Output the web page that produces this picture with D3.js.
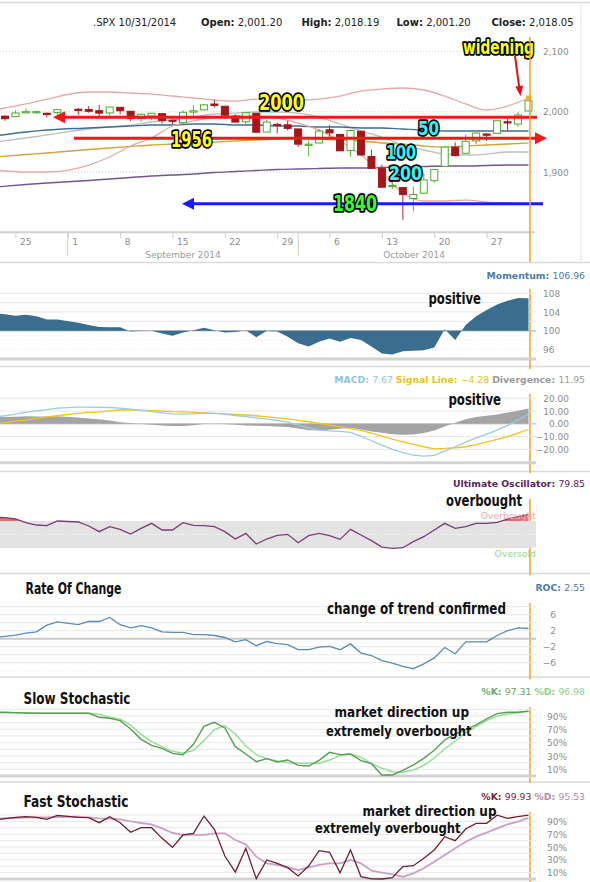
<!DOCTYPE html>
<html>
<head>
<meta charset="utf-8">
<script src="https://cdn.jsdelivr.net/npm/d3@7/dist/d3.min.js"></script>
<style>
html,body{margin:0;padding:0;background:#fff;}
svg{display:block;}
</style>
</head>
<body>
<svg id="chart" width="590" height="882"></svg>
<script>
// ================= DATA =================
const symbol = ".SPX";
const dates = ["2014-08-21","2014-08-22","2014-08-25","2014-08-26","2014-08-27","2014-08-28","2014-08-29",
"2014-09-02","2014-09-03","2014-09-04","2014-09-05","2014-09-08","2014-09-09","2014-09-10","2014-09-11","2014-09-12",
"2014-09-15","2014-09-16","2014-09-17","2014-09-18","2014-09-19",
"2014-09-22","2014-09-23","2014-09-24","2014-09-25","2014-09-26",
"2014-09-29","2014-09-30",
"2014-10-01","2014-10-02","2014-10-03",
"2014-10-06","2014-10-07","2014-10-08","2014-10-09","2014-10-10",
"2014-10-13","2014-10-14","2014-10-15","2014-10-16","2014-10-17",
"2014-10-20","2014-10-21","2014-10-22","2014-10-23","2014-10-24",
"2014-10-27","2014-10-28","2014-10-29","2014-10-30","2014-10-31"];

const open = [1986.82,1992.60,1991.74,1998.59,1999.90,1997.42,1998.45,
2004.07,2003.57,2001.67,1998.00,2007.17,2000.73,1988.41,1992.85,1996.74,
1986.04,1981.93,1999.30,2003.07,2012.74,
2009.08,1992.78,1983.34,1997.32,1966.22,
1978.96,1978.21,
1971.44,1945.83,1948.12,
1970.01,1962.36,1935.55,1967.68,1925.63,
1905.65,1877.11,1874.18,1855.95,1864.91,
1885.62,1909.38,1941.29,1931.02,1951.59,
1962.97,1964.14,1983.29,1979.49,2001.20];
const high = [1994.76,1993.54,2001.95,2005.04,2002.14,1998.55,2003.38,
2006.12,2009.28,2011.17,2007.71,2007.17,2001.01,1996.66,1997.65,1996.74,
1987.18,2002.28,2010.74,2012.34,2019.26,
2009.08,1995.41,1999.79,1997.32,1986.37,
1981.28,1985.17,
1971.44,1952.32,1971.19,
1977.84,1962.36,1970.36,1967.68,1936.98,
1912.09,1898.71,1874.18,1876.01,1898.16,
1905.03,1942.45,1949.31,1961.95,1965.27,
1964.64,1985.05,1991.40,1999.40,2018.19];
const low = [1986.82,1984.76,1991.74,1998.59,1996.20,1990.52,1994.65,
1994.85,1998.14,1992.44,1990.10,1995.60,1984.61,1982.99,1985.93,1980.26,
1978.48,1979.06,1993.29,2003.07,2006.59,
1991.01,1982.77,1978.63,1965.99,1966.22,
1964.04,1968.96,
1941.72,1926.03,1948.12,
1958.43,1935.10,1925.25,1927.56,1906.05,
1874.14,1871.79,1820.66,1835.02,1864.91,
1882.30,1909.38,1927.11,1931.02,1946.27,
1951.37,1964.14,1969.04,1974.75,2001.20];
const close = [1992.37,1988.40,1997.92,2000.02,2000.12,1996.74,2003.37,
2002.28,2000.72,1997.65,2007.71,2001.54,1988.44,1995.69,1997.45,1985.54,
1984.13,1998.98,2001.57,2011.36,2010.40,
1994.29,1982.77,1998.30,1965.99,1982.85,
1977.80,1972.29,
1946.16,1946.17,1967.90,
1964.82,1935.10,1968.89,1928.21,1906.13,
1874.74,1877.70,1862.49,1862.76,1886.76,
1904.01,1941.28,1927.11,1950.82,1964.58,
1961.63,1985.05,1982.30,1994.65,2018.05];

// moving averages / bands, sampled on these dates
const maDates = ["2014-08-21","2014-08-26","2014-08-28","2014-09-03","2014-09-05","2014-09-09","2014-09-11",
"2014-09-15","2014-09-17","2014-09-19","2014-09-23","2014-09-25","2014-09-29","2014-10-01","2014-10-03",
"2014-10-07","2014-10-09","2014-10-13","2014-10-15","2014-10-17","2014-10-21","2014-10-23","2014-10-27",
"2014-10-29","2014-10-31"];
const bbUpper = [2002.8,2012.8,2021.0,2032.7,2032.7,2031.0,2029.3,2026.0,2022.7,2019.4,2017.7,2021.0,2021.0,
2019.4,2021.0,2026.0,2034.3,2037.6,2039.3,2036.0,2026.0,2012.8,2002.8,2009.4,2022.7];
const bbLower = [1903.3,1900.0,1900.0,1911.6,1924.9,1943.1,1956.4,1976.3,1984.6,1991.2,1992.9,1992.9,1989.5,
1981.2,1969.6,1951.4,1928.2,1898.3,1865.1,1851.9,1851.9,1853.5,1850.2,1848.6,1846.9];
const bbMid = [1949.7,1956.4,1961.4,1971.3,1974.6,1977.9,1982.9,1986.2,1991.2,1996.2,1997.8,1999.5,1999.5,
1997.8,1991.2,1979.6,1968.0,1958.0,1944.8,1936.5,1929.8,1928.2,1929.8,1933.2,1933.2];
const ma50 = [1959.7,1966.3,1969.6,1973.0,1974.6,1976.3,1977.9,1977.9,1979.6,1979.6,1977.9,1977.9,1976.3,
1976.3,1974.6,1974.6,1973.0,1973.0,1971.3,1969.6,1968.0,1968.0,1968.0,1968.0,1968.0];
const ma100 = [1924.9,1929.0,1931.5,1937.3,1939.8,1942.3,1944.8,1946.4,1948.1,1949.7,1951.4,1953.1,1954.7,
1956.4,1954.7,1953.1,1951.4,1948.1,1946.4,1943.1,1941.4,1943.1,1944.8,1946.4,1948.1];
const ma200 = [1875.0,1879.2,1881.7,1885.9,1888.4,1890.9,1893.3,1895.0,1896.6,1899.2,1900.8,1902.5,1904.2,
1905.0,1905.8,1906.6,1906.6,1907.5,1908.3,1909.1,1910.0,1910.0,1910.8,1911.6,1911.6];

// indicators (one value per trading day)
const momentum = [103.7,103.5,103.2,103.4,103.1,102.4,102.4,101.7,101.2,100.8,100.7,100.7,99.8,99.9,100.0,99.4,
98.9,99.6,100.1,100.6,100.1,99.6,99.7,100.1,98.6,99.9,99.8,98.7,97.3,96.6,97.6,98.3,97.6,98.4,98.0,96.6,
95.1,94.9,95.6,95.7,95.8,96.4,100.3,98.0,101.2,103.1,104.4,105.6,106.4,107.0,106.96];
const macd = [5.2,6.3,7.6,8.9,10.1,11.2,12.3,13.1,13.1,12.9,12.8,12.3,11.5,10.6,9.7,8.6,7.8,7.6,7.8,8.4,8.1,
7.6,6.5,5.6,4.7,3.7,2.6,1.3,-1.0,-3.4,-5.0,-5.6,-6.0,-6.8,-9.7,-13.3,-16.7,-20.1,-22.7,-24.5,-25.3,-24.8,
-21.4,-18.0,-14.4,-11.0,-8.1,-5.0,-1.3,2.9,7.67];
const signal = [-0.3,1.0,2.1,2.9,4.3,5.4,6.3,8.1,8.9,9.4,10.2,11.0,10.8,10.7,10.4,9.9,9.5,9.3,8.9,8.5,8.1,
7.8,7.3,6.9,6.3,5.5,4.7,3.9,2.7,1.6,0.3,-1.0,-2.2,-3.7,-5.2,-7.3,-9.7,-12.0,-14.1,-16.2,-18.0,-19.6,
-19.3,-18.8,-18.0,-16.4,-14.4,-12.3,-10.1,-7.3,-4.28];
const ultimate = [75.5,75,73,67.5,64,63,70,68.5,62.5,54,61.5,57.5,50.5,59,66.5,56.5,56.5,67.5,63.5,63,61.5,
54,43,51.5,35.5,43,48.5,50,37.5,48,51.5,48,42.5,57.5,49,40.5,31,29,30,39,46.5,56.5,66.5,59,61.5,66.5,
66.5,68,73,76.5,79.85];
const roc = [0.33,0.6,0.9,1.4,1.7,3.4,4.2,3.5,4.3,4.3,5.3,3.5,2.7,3.25,2.7,1.7,1.6,1.6,1.0,1.0,0.8,0.3,-0.8,
-0.25,-1.75,-0.7,-1.25,-1.5,-2.75,-2.75,-2.1,-1.9,-2.75,-1.3,-3.6,-4.2,-5.5,-6.1,-6.9,-7.5,-6.3,-4.8,-2.2,
-3.75,-0.8,-0.8,-0.8,0.8,2.0,2.7,2.55];
const slowK = [95.5,95.5,95,94.5,94,94,94,94,94,88,86.5,83,70.5,55,46,41.5,34,32,47.5,74.5,80.5,72,44,33,
21.5,26,21,24,16,15,23.5,35.5,32,33,23,18.5,1.5,1.5,8.5,16.5,26.5,38.5,54,63,69.5,76.5,85.5,93.5,95.5,
95.5,97.31];
const slowD = [95,95,94.5,94.3,94,94,94,94,94,92.5,88,85.5,76,62.5,51.5,44,37,34.5,38,53,69.5,75.5,63,45,32,
26,22.5,20,19,19,19,24,30.5,33,28,19,11.5,6.5,5.5,9,16,27,40.5,52.5,65,74,83,89.5,93,95,96.98];
const fastK = [92.2,94.3,96.4,97.4,96.4,93.2,99.5,96.4,95.8,88,97.4,88,72.9,80.2,80.2,63.5,49.5,68.8,71.4,
98.4,77.6,35.9,10.9,47.9,0.5,29.7,24.5,17.7,4.7,20.3,44.3,41.7,9.9,45.3,3.6,0.2,0,2.1,19.3,20.8,32.3,45.3,
66.1,59.9,78.1,87,87,99.8,94.8,97.4,99.93];
const fastD = [94.3,94.8,95.3,95.8,96.4,96.4,96.9,97.4,96.4,94.8,94.3,93.2,90.1,87.5,85.4,79.2,71.9,68.8,
68.8,68.8,71.4,71.4,60.9,54.2,34.9,24.5,21.9,18.2,14.1,18.2,21.9,24.5,24.5,29.7,24.5,13,9.9,7.3,3.6,8.9,
16.7,27.1,37.5,47.9,58.3,66.1,72.4,79.2,85.4,89.6,95.53];

// price levels marked on the chart
const levelResist = 1990.7, levelSupport = 1955.9, levelLow = 1847.4;
const priceTicks = [1900, 2000, 2100];

// ================= HELPERS =================
const svg = d3.select("#chart");
const SANS = "'DejaVu Sans', Verdana, sans-serif";
const NARROW = "'Liberation Sans Narrow','DejaVu Sans Condensed','Roboto Condensed','DejaVu Sans',sans-serif";
const TICK = "#8c8c8c";
const parse = d3.timeParse("%Y-%m-%d");
const base = parse("2014-08-22");
const isWk = d => d.getDay() !== 0 && d.getDay() !== 6;
function wd(d) {
  if (d >= base) return d3.timeDay.range(base, d).filter(isWk).length;
  return -d3.timeDay.range(d, base).filter(isWk).length;
}
const tDates = dates.map(parse);
const tIdx = tDates.map(wd);
const maIdx = maDates.map(parse).map(wd);
const x = d3.scaleLinear().domain([0, 50]).range([5, 528.5]);
const X = i => x(tIdx[i]);
const last = dates.length - 1;

const defs = svg.append("defs");
defs.append("clipPath").attr("id", "cm").append("rect").attr("x", 0).attr("y", 28).attr("width", 536).attr("height", 204);
defs.append("clipPath").attr("id", "ci").append("rect").attr("x", 0).attr("y", 0).attr("width", 530.5).attr("height", 882);

function hline(g, y, x1, x2, col, w, dash) {
  const l = g.append("line").attr("x1", x1).attr("x2", x2).attr("y1", y).attr("y2", y)
    .attr("stroke", col).attr("stroke-width", w);
  if (dash) l.attr("stroke-dasharray", dash);
  return l;
}
function bigLabel(str, x0, yb, len, fill, size) {
  svg.append("text").attr("x", x0).attr("y", yb)
    .attr("textLength", len).attr("lengthAdjust", "spacingAndGlyphs")
    .style("font-family", NARROW).style("font-weight", "bold").style("font-size", size + "px")
    .attr("fill", fill).attr("stroke", "#000").attr("stroke-width", 3.6)
    .attr("stroke-linejoin", "round").attr("paint-order", "stroke").text(str);
}
function note(str, x0, yb, len, size) {
  svg.append("text").attr("x", x0).attr("y", yb)
    .attr("textLength", len).attr("lengthAdjust", "spacingAndGlyphs")
    .style("font-family", NARROW).style("font-weight", "bold").style("font-size", (size || 15) + "px")
    .attr("fill", "#111").text(str);
}
function label(y, parts) {
  const t = svg.append("text").attr("x", 585).attr("y", y).attr("text-anchor", "end")
    .style("font-family", SANS).style("font-size", "9.3px");
  parts.forEach(p => t.append("tspan").attr("fill", p[1]).style("font-weight", p[2] ? "bold" : "normal").text(p[0]));
}
function rightAxis(y, vals, fmt, xpos, anchor) {
  const g = svg.append("g").attr("transform", `translate(${xpos},0)`)
    .call(d3.axisRight(y).tickValues(vals).tickSize(0).tickPadding(0).tickFormat(fmt));
  g.select(".domain").remove();
  g.selectAll("text").attr("fill", TICK).style("font-family", SANS).style("font-size", "9px")
    .attr("text-anchor", anchor || "start");
  return g;
}

// ================= FRAME =================
[2.5, 262.5, 366.5, 471.5, 573.5, 677, 782].forEach(yy => hline(svg, yy, 0, 590, "#d9d9d9", 1.5));
svg.append("line").attr("x1", 581).attr("x2", 581).attr("y1", 2.5).attr("y2", 262.5).attr("stroke", "#e2e2e2");

// header
const f2 = d3.format(",.2f");
const hdr = [
  [symbol + " " + d3.timeFormat("%m/%d/%Y")(tDates[last]), "", 93],
  ["Open:", f2(open[last]), 201],
  ["High:", f2(high[last]), 301.5],
  ["Low:", f2(low[last]), 396.5],
  ["Close:", f2(close[last]), 491.5]
];
hdr.forEach(h => {
  const t = svg.append("text").attr("x", h[2]).attr("y", 25.5).attr("fill", "#222")
    .style("font-family", SANS).style("font-size", "10px");
  if (h[1]) {
    t.append("tspan").style("font-weight", "bold").text(h[0]);
    t.append("tspan").text(" " + h[1]);
  } else t.text(h[0]);
});

// ================= MAIN PRICE PANEL =================
const yP = d3.scaleLinear().domain([1800, 2100]).range([232.3, 51.4]);
priceTicks.forEach(v => hline(svg, yP(v), 0, 540, "#d3d3d3", 1, "1,2"));
rightAxis(yP, priceTicks, d3.format(","), 543).selectAll("text").attr("dy", "0.35em");

// x axis
hline(svg, 232.3, 0, 535, "#d0d0d0", 2);
const mondays = d3.timeMonday.range(parse("2014-08-25"), parse("2014-10-28"));
const xa = svg.append("g").attr("transform", "translate(0,232.3)")
  .call(d3.axisBottom(x).tickValues(mondays.map(wd)).tickSize(6).tickPadding(0)
    .tickFormat((d, i) => d3.timeFormat("%-d")(mondays[i])));
xa.select(".domain").remove();
xa.selectAll("line").attr("stroke", "#cfcfcf");
xa.selectAll("text").attr("fill", TICK).attr("text-anchor", "start").attr("x", 4)
  .style("font-family", SANS).style("font-size", "9px");
const months = d3.timeMonth.range(parse("2014-09-01"), parse("2014-11-01"));
const monthStart = months.map(m => { let d = m; while (!isWk(d)) d = d3.timeDay.offset(d, 1); return x(wd(d)); });
months.forEach((m, i) => {
  const x0 = monthStart[i], x1 = i + 1 < months.length ? monthStart[i + 1] : 530;
  svg.append("line").attr("x1", x0).attr("x2", x0).attr("y1", 232.3).attr("y2", 256).attr("stroke", "#cfcfcf");
  svg.append("text").attr("x", (x0 + x1) / 2).attr("y", 257.5).attr("text-anchor", "middle")
    .attr("fill", "#9a9a9a").style("font-family", SANS).style("font-size", "9px")
    .text(d3.timeFormat("%B %Y")(m));
});

// moving averages and bands
const mg = svg.append("g").attr("clip-path", "url(#cm)");
const maLine = d3.line().x((d, i) => x(maIdx[i])).y(d => yP(d)).curve(d3.curveMonotoneX);
[[ma200, "#735497", 1.4], [ma100, "#d3a33a", 1.3], [bbMid, "#bdbdbd", 1.3], [ma50, "#3c6f99", 1.4],
 [bbUpper, "#e2aaa4", 1.3], [bbLower, "#e2aaa4", 1.3]].forEach(s =>
  mg.append("path").attr("d", maLine(s[0])).attr("fill", "none").attr("stroke", s[1]).attr("stroke-width", s[2]));

// candles
const cg = svg.append("g").attr("clip-path", "url(#cm)");
dates.forEach((d, i) => {
  const up = close[i] >= open[i];
  const col = up ? "#4fa82f" : "#a5161a";
  const cx = X(i);
  cg.append("line").attr("x1", cx).attr("x2", cx).attr("y1", yP(high[i])).attr("y2", yP(low[i]))
    .attr("stroke", up ? "#5cb33a" : "#b32b2b").attr("stroke-width", 1);
  const yt = yP(Math.max(open[i], close[i])), yb = yP(Math.min(open[i], close[i]));
  cg.append("rect").attr("x", cx - 3.5).attr("y", yt).attr("width", 7).attr("height", Math.max(1.2, yb - yt))
    .attr("fill", up ? "#fff" : "#a5161a").attr("stroke", col).attr("stroke-width", 1);
});
// last-value marker
svg.append("rect").attr("x", X(last) - 2.5).attr("y", yP(bbUpper[bbUpper.length - 1]) - 2.5)
  .attr("width", 5).attr("height", 5).attr("fill", "#f5a623").attr("opacity", 0.9);

// level lines with arrows
function levelLine(price, x1, x2, col, arrowLeft) {
  const yy = yP(price);
  hline(svg, yy, arrowLeft ? x1 + 8 : x1, arrowLeft ? x2 : x2 - 8, col, 3);
  const tip = arrowLeft ? x1 : x2, back = arrowLeft ? x1 + 12 : x2 - 12;
  svg.append("path").attr("d", `M${tip},${yy}L${back},${yy - 6}L${back},${yy + 6}Z`).attr("fill", col);
}
levelLine(levelResist, 53, 537, "#f01818", true);
levelLine(levelSupport, 74, 547, "#f01818", false);
levelLine(levelLow, 182, 543, "#1a1aff", true);

// widening arrow
svg.append("line").attr("x1", 515).attr("y1", 56).attr("x2", 519.3).attr("y2", 88).attr("stroke", "#e81010").attr("stroke-width", 2);
svg.append("path").attr("d", "M520.5,96L515.3,86.6L523.2,85.6Z").attr("fill", "#e81010");

bigLabel("widening", 463, 53.5, 71, "#ffff22", 19);
bigLabel("2000", 259, 110, 45, "#ffff22", 21);
bigLabel("1956", 171, 147, 41, "#ffff22", 21);
bigLabel("50", 418, 134.5, 21, "#33f4ff", 20);
bigLabel("100", 386, 158.5, 30, "#33f4ff", 19);
bigLabel("200", 389, 179.5, 33, "#33f4ff", 19);
bigLabel("1840", 333, 210.5, 44, "#33ff33", 21);

// orange "current" line segments
[[37, 262], [289, 369], [394, 473], [499, 575], [603, 679], [707, 783], [812, 882]].forEach(s =>
  svg.append("line").attr("x1", 530).attr("x2", 530).attr("y1", s[0]).attr("y2", s[1])
    .attr("stroke", "#f5a020").attr("stroke-width", 1.5));

const fmt2 = d3.format(".2f");

// ================= MOMENTUM =================
const yM = d3.scaleLinear().domain([96, 108]).range([349.3, 293.3]);
d3.range(96, 109, 2).forEach(v => hline(svg, yM(v), 0, 536, v === 100 ? "#c4c4c4" : "#e8e8e8", v === 100 ? 1.5 : 1, v < 100 ? "1,2" : null));
hline(svg, 359, 0, 536, "#d2d2d2", 3);
svg.append("path").attr("clip-path", "url(#ci)")
  .attr("d", d3.area().x((d, i) => X(i)).y0(yM(100)).y1(d => yM(d))(momentum))
  .attr("fill", "#3b6d8e");
rightAxis(yM, [108, 104, 100, 96], d3.format("d"), 543).selectAll("text").attr("dy", "0.35em");
label(278.5, [["Momentum: ", "#4a7ca6", true], [fmt2(momentum[last]), "#4a7ca6", false]]);
note("positive", 428.5, 303.5, 52.5, 15);

// ================= MACD =================
const yD = d3.scaleLinear().domain([-20, 20]).range([449.3, 398.3]);
[-20, -10, 0, 10, 20].forEach(v => hline(svg, yD(v), 0, 536, v === 0 ? "#d0d0d0" : "#e6e6e6", v === 0 ? 1.5 : 1));
hline(svg, 462.7, 0, 536, "#d2d2d2", 3);
const divergence = macd.map((m, i) => m - signal[i]);
svg.append("path").attr("clip-path", "url(#ci)")
  .attr("d", d3.area().x((d, i) => X(i)).y0(yD(0)).y1(d => yD(d))(divergence))
  .attr("fill", "#a4a4a4");
svg.append("path").attr("clip-path", "url(#ci)").attr("d", d3.line().x((d, i) => X(i)).y(d => yD(d))(signal))
  .attr("fill", "none").attr("stroke", "#f2c31a").attr("stroke-width", 1.3);
svg.append("path").attr("clip-path", "url(#ci)").attr("d", d3.line().x((d, i) => X(i)).y(d => yD(d))(macd))
  .attr("fill", "none").attr("stroke", "#9ccbe0").attr("stroke-width", 1.3);
rightAxis(yD, [20, 10, 0, -10, -20], fmt2, 569, "end").selectAll("text").attr("dy", "0.35em");
label(382.5, [["MACD: ", "#92c4dc", true], [fmt2(macd[last]) + "  ", "#92c4dc", false],
  ["Signal Line: ", "#e8c21c", true], [fmt2(signal[last]) + "  ", "#e8c21c", false],
  ["Divergence: ", "#9a9a9a", true], [fmt2(divergence[last]), "#9a9a9a", false]]);
note("positive", 448.5, 405, 52.5, 15);

// ================= ULTIMATE OSCILLATOR =================
const yU = d3.scaleLinear().domain([0, 100]).range([567.7, 501]);
svg.append("rect").attr("x", 0).attr("y", yU(70)).attr("width", 536).attr("height", yU(30) - yU(70)).attr("fill", "#e3e3e3");
hline(svg, yU(50), 0, 536, "#ffffff", 1, "1,2");
defs.append("clipPath").attr("id", "uoTop").append("rect").attr("x", 0).attr("y", 0).attr("width", 530.5).attr("height", yU(70));
defs.append("clipPath").attr("id", "uoBot").append("rect").attr("x", 0).attr("y", yU(30)).attr("width", 530.5).attr("height", 100);
svg.append("path").attr("clip-path", "url(#uoTop)")
  .attr("d", d3.area().x((d, i) => X(i)).y0(yU(70)).y1(d => yU(d))(ultimate)).attr("fill", "#dc5a55").attr("opacity", 0.85);
svg.append("path").attr("clip-path", "url(#uoBot)")
  .attr("d", d3.area().x((d, i) => X(i)).y0(yU(30)).y1(d => yU(d))(ultimate)).attr("fill", "#66bb55").attr("opacity", 0.85);
svg.append("path").attr("clip-path", "url(#ci)").attr("d", d3.line().x((d, i) => X(i)).y(d => yU(d))(ultimate))
  .attr("fill", "none").attr("stroke", "#7a3d78").attr("stroke-width", 1.3);
svg.append("text").attr("x", 536).attr("y", 518.5).attr("text-anchor", "end").attr("fill", "#f2a8a8")
  .style("font-family", SANS).style("font-size", "9.3px").text("Overbought");
svg.append("text").attr("x", 536).attr("y", 557).attr("text-anchor", "end").attr("fill", "#98d490")
  .style("font-family", SANS).style("font-size", "9.3px").text("Oversold");
label(487, [["Ultimate Oscillator: ", "#5c2460", true], [fmt2(ultimate[last]), "#5c2460", false]]);
note("overbought", 446, 506, 76, 15);

// ================= RATE OF CHANGE =================
const yR = d3.scaleLinear().domain([-8, 8]).range([670.7, 606.7]);
d3.range(-8, 9, 2).forEach(v => hline(svg, yR(v), 0, 536, v === 0 ? "#c8c8c8" : "#e8e8e8", v === 0 ? 2 : 1, v === -8 ? "1,2" : null));
svg.append("path").attr("clip-path", "url(#ci)").attr("d", d3.line().x((d, i) => X(i)).y(d => yR(d))(roc))
  .attr("fill", "none").attr("stroke", "#5a8cb5").attr("stroke-width", 1.3);
rightAxis(yR, [6, 2, -2, -6], d3.format("d"), 556, "end").selectAll("text").attr("dy", "0.35em");
label(591, [["ROC: ", "#4a7ca6", true], [fmt2(roc[last]), "#4a7ca6", false]]);
note("Rate Of Change", 25.5, 593.5, 96, 15);
note("change of trend confirmed", 327, 613.5, 179, 15);

// ================= SLOW STOCHASTIC =================
const pct = d => d + "%";
const yS = d3.scaleLinear().domain([0, 100]).range([776, 709.3]);
d3.range(10, 101, 10).forEach(v => hline(svg, yS(v), 0, 536, "#e8e8e8", 1));
hline(svg, yS(0), 0, 536, "#d2d2d2", 3);
svg.append("path").attr("clip-path", "url(#ci)").attr("d", d3.line().x((d, i) => X(i)).y(d => yS(d))(slowD))
  .attr("fill", "none").attr("stroke", "#95e095").attr("stroke-width", 1.5);
svg.append("path").attr("clip-path", "url(#ci)").attr("d", d3.line().x((d, i) => X(i)).y(d => yS(d))(slowK))
  .attr("fill", "none").attr("stroke", "#5a9c55").attr("stroke-width", 1.4);
rightAxis(yS, [90, 70, 50, 30, 10], pct, 547).selectAll("text").attr("dy", "0.35em");
label(695, [["%K: ", "#6aaa66", true], [fmt2(slowK[last]) + "  ", "#6aaa66", false],
  ["%D: ", "#8fd08f", true], [fmt2(slowD[last]), "#8fd08f", false]]);
note("Slow Stochastic", 23.5, 704, 107, 15);
note("market direction up", 334.5, 716.5, 134.5, 14.5);
note("extremely overbought", 326, 735.5, 145.5, 14.5);

// ================= FAST STOCHASTIC =================
const yF = d3.scaleLinear().domain([0, 100]).range([879, 815]);
d3.range(10, 101, 10).forEach(v => hline(svg, yF(v), 0, 536, "#e8e8e8", 1));
hline(svg, yF(0), 0, 536, "#d2d2d2", 3);
svg.append("path").attr("clip-path", "url(#ci)").attr("d", d3.line().x((d, i) => X(i)).y(d => yF(d))(fastD))
  .attr("fill", "none").attr("stroke", "#c9a2c3").attr("stroke-width", 1.8);
svg.append("path").attr("clip-path", "url(#ci)").attr("d", d3.line().x((d, i) => X(i)).y(d => yF(d))(fastK))
  .attr("fill", "none").attr("stroke", "#6e1f30").attr("stroke-width", 1.3);
rightAxis(yF, [90, 70, 50, 30, 10], pct, 547).selectAll("text").attr("dy", "0.35em");
label(799.5, [["%K: ", "#7a2434", true], [fmt2(fastK[last]) + "  ", "#7a2434", false],
  ["%D: ", "#b88aa8", true], [fmt2(fastD[last]), "#b88aa8", false]]);
note("Fast Stochastic", 23.5, 806.5, 105, 15);
note("market direction up", 362.5, 816, 134, 14);
note("extremely overbought", 315, 832.5, 145.5, 14);
</script>
</body>
</html>
